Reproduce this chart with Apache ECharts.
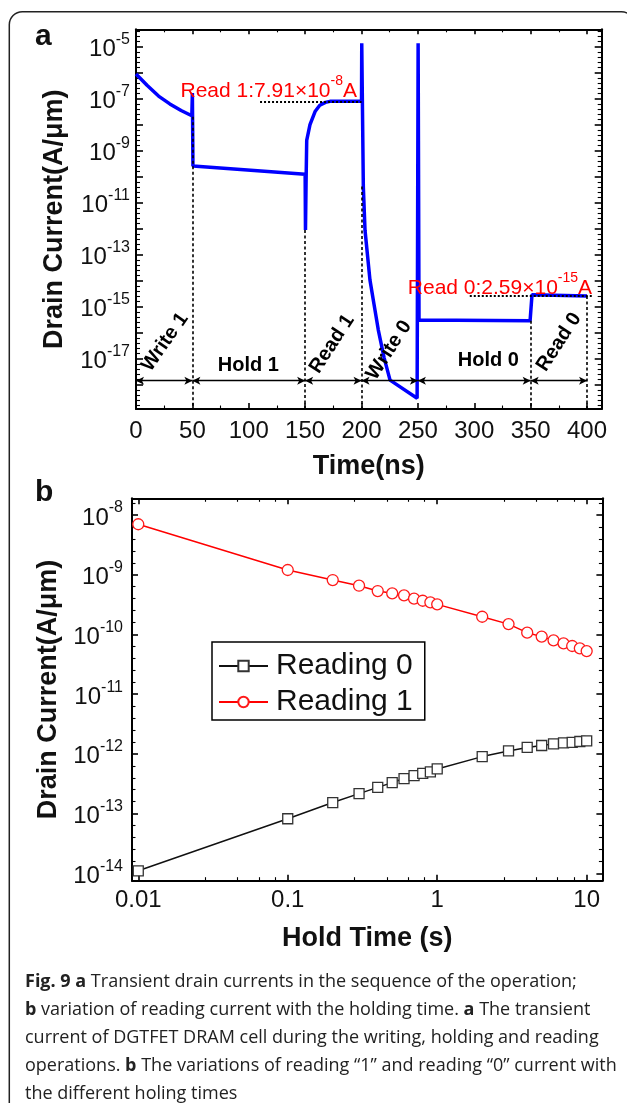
<!DOCTYPE html>
<html>
<head>
<meta charset="utf-8">
<title>Fig. 9 – DGTFET DRAM transient and retention currents</title>
<script src="https://cdn.jsdelivr.net/npm/echarts@6.0.0/dist/echarts.min.js"></script>
<style>
  html, body { margin: 0; padding: 0; background: #fff; }
  #fig { width: 627px; height: 1103px; }
</style>
</head>
<body>
<div id="fig"></div>
<script>
// ---------- (a) transient drain current through the operation sequence ----------
const READ1_LEVEL = 7.91e-8;   // A/um, reading "1" current
const READ0_LEVEL = 2.59e-15;  // A/um, reading "0" current

const transientTime = [
  0, 10, 20, 30, 40, 49.5, 50, 50.5,
  150, 150.3, 150.8, 151.4, 154.3, 158.8, 163, 168, 172, 200,
  200.2, 201.6, 203.1, 207.5, 211, 214.9, 220, 225.3, 249.3,
  250.2, 251, 349.5, 351.2, 400
];
const transientCurrent = [
  8.9e-7, 3.2e-7, 1.26e-7, 6.3e-8, 3.5e-8, 2.2e-8, 1.66e-7, 2.6e-10,
  1.23e-10, 8.9e-13, 5.0e-11, 2.5e-9, 1.0e-8, 3.2e-8, 5.6e-8, 7.2e-8, READ1_LEVEL, READ1_LEVEL,
  1.35e-5, 4.2e-11, 8.7e-13, 1.05e-14, 1.3e-15, 1.26e-16, 1.1e-17, 1.5e-18, 3.0e-19,
  1.35e-5, 3.1e-16, 2.9e-16, 2.9e-15, READ0_LEVEL
];

const phaseEdges = [0, 50, 150, 200, 250, 350, 400];
const phaseNames = ['Write 1', 'Hold 1', 'Read 1', 'Write 0', 'Hold 0', 'Read 0'];
const timeTicks = [0, 50, 100, 150, 200, 250, 300, 350, 400];
const labelledDecadesA = [-17, -15, -13, -11, -9, -7, -5];

// ---------- (b) reading current against hold time ----------
const holdTime = [0.01, 0.1, 0.2, 0.3, 0.4, 0.5, 0.6, 0.7, 0.8, 0.9, 1, 2, 3, 4, 5, 6, 7, 8, 9, 10];
const reading0Current = [
  1.1e-14, 8.2e-14, 1.53e-13, 2.16e-13, 2.75e-13, 3.3e-13, 3.86e-13, 4.33e-13, 4.73e-13, 4.99e-13,
  5.6e-13, 9.0e-13, 1.12e-12, 1.28e-12, 1.38e-12, 1.47e-12, 1.53e-12, 1.56e-12, 1.61e-12, 1.65e-12
];
const reading1Current = [
  7.0e-9, 1.2e-9, 8.15e-10, 6.55e-10, 5.33e-10, 4.88e-10, 4.52e-10, 3.97e-10, 3.67e-10, 3.45e-10,
  3.19e-10, 1.98e-10, 1.49e-10, 1.07e-10, 9.2e-11, 7.96e-11, 7.1e-11, 6.4e-11, 5.85e-11, 5.27e-11
];
const holdTimeTicks = ['0.01', '0.1', '1', '10'];
const labelledDecadesB = [-14, -13, -12, -11, -10, -9, -8];

// ---------- annotation layout for panel (a) ----------
// where each dotted phase boundary starts (current at the top of the guide)
const boundaryGuides = [[50, 2.0e-8], [150, 8.9e-13], [200, 4.2e-11], [350, 2.9e-16], [400, READ0_LEVEL]];
const read1GuideSpan = [110, 200];
const read0GuideSpan = [296, 405.6];
const arrowLevel = 1.43e-18;
const phaseLabelSpots = [[25.7, -16.36], [99.6, -17.28], [173.8, -16.43], [224.4, -16.67], [312.5, -17.05], [375.2, -16.36]];
const phaseLabelTilt = [55, 0, 57, 57, 0, 57];
const read1LabelSpot = [39, -6.59];
const read0LabelSpot = [240.6, -14.17];

// axis extents (current axes are in decades)
const A_X = [0, 413];
const A_Y = [-18.935, -4.331];
const B_X = [0.00908, 12.74];
const B_Y = [-14.124, -7.72];

const FONT = '"Liberation Sans", Arial, Helvetica, sans-serif';
const CAPTION_FONT = '"Open Sans", "Noto Sans", sans-serif';
const INK = '#111';
const lg = Math.log10;

const supRich = {
  m: { fontSize: 24, lineHeight: 30, verticalAlign: 'bottom', fontFamily: FONT, color: INK },
  s: { fontSize: 16, lineHeight: 16, verticalAlign: 'top', fontFamily: FONT, color: INK }
};
function decadeLabel(v, shown) {
  const n = Math.round(v);
  if (Math.abs(v - n) > 1e-6 || shown.indexOf(n) < 0) return '';
  return '{m|10}{s|' + n + '}';
}
function holdLabel(v) {
  const e = Math.log10(v), n = Math.round(e);
  if (Math.abs(e - n) > 1e-6) return '';
  return holdTimeTicks[n + 2] || '';
}
function sciParts(v) {
  const p = v.toExponential(2).split('e');
  return [p[0], String(+p[1])];
}

const frameLine = { color: '#000', width: 2 };
const majorTick = (len) => ({ show: true, inside: true, length: len, lineStyle: { color: '#000', width: 1.6 } });
const minorTick = (n, len) => ({ show: true, splitNumber: n, length: len, lineStyle: { color: '#000', width: 1.1 } });
const titleFont = { fontSize: 27, fontWeight: 'bold', color: INK, fontFamily: FONT };

function frameAxis(extra) {
  return Object.assign({
    axisLine: { show: true, onZero: false, lineStyle: frameLine },
    splitLine: { show: false },
  }, extra);
}

// ---------- marker lines: phase guides, read-level guides and phase arrows ----------
const dashStyle = { color: '#000', width: 1.6, type: [3, 2.5] };
const dotStyle = { color: '#000', width: 2, type: [2, 2] };
const arrowStyle = { color: '#000', width: 1.3, type: 'solid' };
const guideData = [];
boundaryGuides.forEach(function (g) {
  guideData.push([{ coord: [g[0], lg(g[1])], lineStyle: dashStyle }, { coord: [g[0], A_Y[0]] }]);
});
guideData.push([{ coord: [read1GuideSpan[0], lg(READ1_LEVEL)], lineStyle: dotStyle }, { coord: [read1GuideSpan[1], lg(READ1_LEVEL)] }]);
guideData.push([{ coord: [read0GuideSpan[0], lg(READ0_LEVEL)], lineStyle: dotStyle }, { coord: [read0GuideSpan[1], lg(READ0_LEVEL)] }]);
for (let i = 0; i < phaseEdges.length - 1; i++) {
  guideData.push([
    { coord: [phaseEdges[i], lg(arrowLevel)], symbol: 'arrow', symbolSize: [6, 8], lineStyle: arrowStyle },
    { coord: [phaseEdges[i + 1], lg(arrowLevel)], symbol: 'arrow', symbolSize: [6, 8] }
  ]);
}

const redRich = {
  r: { fontSize: 21, lineHeight: 28, verticalAlign: 'bottom', color: '#ff0000', fontFamily: FONT },
  rs: { fontSize: 14, lineHeight: 14, verticalAlign: 'top', color: '#ff0000', fontFamily: FONT }
};
function readText(name, v) {
  const p = sciParts(v);
  return '{r|' + name + ':' + p[0] + '×10}{rs|' + p[1] + '}{r|A}';
}

const captionLines = [
  '{b|Fig. 9 a} Transient drain currents in the sequence of the operation;',
  '{b|b} variation of reading current with the holding time. {b|a} The transient',
  'current of DGTFET DRAM cell during the writing, holding and reading',
  'operations. {b|b} The variations of reading \u201c1\u201d and reading \u201c0\u201d current with',
  'the different holing times'
];
const captionTop = 982, captionStep = 28;

// invisible anchor symbols that only carry text
const textAnchor = { color: 'rgba(0,0,0,0)', opacity: 1 };

const chart = echarts.init(document.getElementById('fig'), null, { renderer: 'canvas' });
chart.setOption({
  animation: false,
  backgroundColor: '#fff',
  textStyle: { fontFamily: FONT },
  grid: [
    { left: 136, top: 29.3, width: 465.7, height: 379.7, outerBoundsMode: 'none' },
    { left: 132, top: 498.3, width: 470.4, height: 382.4, outerBoundsMode: 'none' }
  ],
  xAxis: [
    frameAxis({
      gridIndex: 0, type: 'value', position: 'bottom', min: A_X[0], max: A_X[1], interval: 50,
      axisTick: majorTick(6), minorTick: minorTick(2, 3.5),
      axisLabel: { margin: 10, fontSize: 24, color: INK,
        formatter: v => (timeTicks.indexOf(v) >= 0 ? String(v) : '') },
      name: 'Time(ns)', nameLocation: 'middle', nameGap: 44, nameTextStyle: titleFont
    }),
    frameAxis({
      gridIndex: 0, type: 'value', position: 'top', min: A_X[0], max: A_X[1], interval: 50,
      axisTick: majorTick(5), minorTick: minorTick(2, 3), axisLabel: { show: false }
    }),
    frameAxis({
      gridIndex: 1, type: 'log', logBase: 10, position: 'bottom', min: B_X[0], max: B_X[1],
      axisTick: majorTick(6), minorTick: minorTick(5, 3.5),
      axisLabel: { margin: 8, fontSize: 24, color: INK, formatter: holdLabel },
      name: 'Hold Time (s)', nameLocation: 'middle', nameGap: 44, nameTextStyle: titleFont
    }),
    frameAxis({
      gridIndex: 1, type: 'log', logBase: 10, position: 'top', min: B_X[0], max: B_X[1],
      axisTick: majorTick(6), minorTick: minorTick(5, 3.5), axisLabel: { show: false }
    })
  ],
  yAxis: [
    frameAxis({
      gridIndex: 0, type: 'value', position: 'left', min: A_Y[0], max: A_Y[1], minInterval: 1, maxInterval: 1,
      axisTick: majorTick(7), minorTick: minorTick(5, 4),
      axisLabel: { margin: 6, formatter: v => decadeLabel(v, labelledDecadesA), rich: supRich },
      name: 'Drain Current(A/μm)', nameLocation: 'middle', nameGap: 68, nameTextStyle: titleFont
    }),
    frameAxis({
      gridIndex: 0, type: 'value', position: 'right', min: A_Y[0], max: A_Y[1], minInterval: 1, maxInterval: 1,
      axisTick: majorTick(7), minorTick: minorTick(5, 4), axisLabel: { show: false }
    }),
    frameAxis({
      gridIndex: 1, type: 'value', position: 'left', min: B_Y[0], max: B_Y[1], minInterval: 1, maxInterval: 1,
      axisTick: majorTick(6), minorTick: minorTick(5, 3.5),
      axisLabel: { margin: 9, formatter: v => decadeLabel(v, labelledDecadesB), rich: supRich },
      name: 'Drain Current(A/μm)', nameLocation: 'middle', nameGap: 64, nameTextStyle: titleFont
    }),
    frameAxis({
      gridIndex: 1, type: 'value', position: 'right', min: B_Y[0], max: B_Y[1], minInterval: 1, maxInterval: 1,
      axisTick: majorTick(6), minorTick: minorTick(5, 3.5), axisLabel: { show: false }
    })
  ],
  legend: {
    data: ['Reading 0', 'Reading 1'],
    orient: 'vertical', left: 212, top: 642,
    itemWidth: 49, itemHeight: 13, itemGap: 6,
    padding: [9, 12, 3, 6],
    borderColor: '#000', borderWidth: 1.5, backgroundColor: '#fff',
    selectedMode: false,
    textStyle: { fontSize: 30, color: INK, fontFamily: FONT, padding: [0, 0, 0, 3] }
  },
  series: [
    {
      name: 'Transient', type: 'line', xAxisIndex: 0, yAxisIndex: 0,
      data: transientTime.map((t, i) => [t, lg(transientCurrent[i])]),
      showSymbol: false, silent: true, z: 4,
      lineStyle: { color: '#0000ff', width: 3.5 },
      markLine: { silent: true, symbol: 'none', label: { show: false }, animation: false, data: guideData }
    },
    {
      name: 'Phases', type: 'scatter', xAxisIndex: 0, yAxisIndex: 0, silent: true,
      symbolSize: 1, itemStyle: textAnchor, z: 5,
      data: phaseNames.map((n, i) => ({ name: n, value: phaseLabelSpots[i], label: { rotate: phaseLabelTilt[i] } })),
      label: { show: true, position: 'inside', formatter: '{b}', fontSize: 20, fontWeight: 'bold',
        color: '#000', opacity: 1, fontFamily: FONT }
    },
    {
      name: 'Read levels', type: 'scatter', xAxisIndex: 0, yAxisIndex: 0, silent: true,
      symbolSize: 1, itemStyle: textAnchor, z: 5,
      data: [
        { value: read1LabelSpot, label: { formatter: readText('Read 1', READ1_LEVEL) } },
        { value: read0LabelSpot, label: { formatter: readText('Read 0', READ0_LEVEL) } }
      ],
      label: { show: true, position: 'right', distance: 0, opacity: 1, rich: redRich }
    },
    {
      name: 'Reading 0', type: 'line', xAxisIndex: 2, yAxisIndex: 2,
      data: holdTime.map((t, i) => [t, lg(reading0Current[i])]),
      symbol: 'rect', symbolSize: 10, z: 3,
      itemStyle: { color: '#fff', borderColor: '#333', borderWidth: 1.3 },
      lineStyle: { color: '#111', width: 1.5 }
    },
    {
      name: 'Reading 1', type: 'line', xAxisIndex: 2, yAxisIndex: 2,
      data: holdTime.map((t, i) => [t, lg(reading1Current[i])]),
      symbol: 'circle', symbolSize: 11, z: 3,
      itemStyle: { color: '#fff', borderColor: '#ff1a1a', borderWidth: 1.3 },
      lineStyle: { color: '#ff0000', width: 1.5 }
    }
  ],
  graphic: [
    { type: 'rect', silent: true, shape: { x: 9.3, y: 11.7, width: 625, height: 1120, r: 13 },
      style: { fill: 'none', stroke: '#222', lineWidth: 1.5 } },
    { type: 'text', silent: true, x: 35, y: 37, style: { text: 'a', fontSize: 30, fontWeight: 'bold', fontFamily: FONT, fill: INK, verticalAlign: 'middle' } },
    { type: 'text', silent: true, x: 35, y: 493, style: { text: 'b', fontSize: 30, fontWeight: 'bold', fontFamily: FONT, fill: INK, verticalAlign: 'middle' } }
  ].concat(captionLines.map((line, i) => ({
    type: 'text', silent: true, x: 25, y: captionTop + i * captionStep,
    style: {
      text: line, fontSize: 18, fontFamily: CAPTION_FONT, fill: '#222', verticalAlign: 'middle',
      rich: { b: { fontSize: 18, fontFamily: CAPTION_FONT, fontWeight: 'bold', fill: '#222' } }
    }
  })))
});
</script>
</body>
</html>
